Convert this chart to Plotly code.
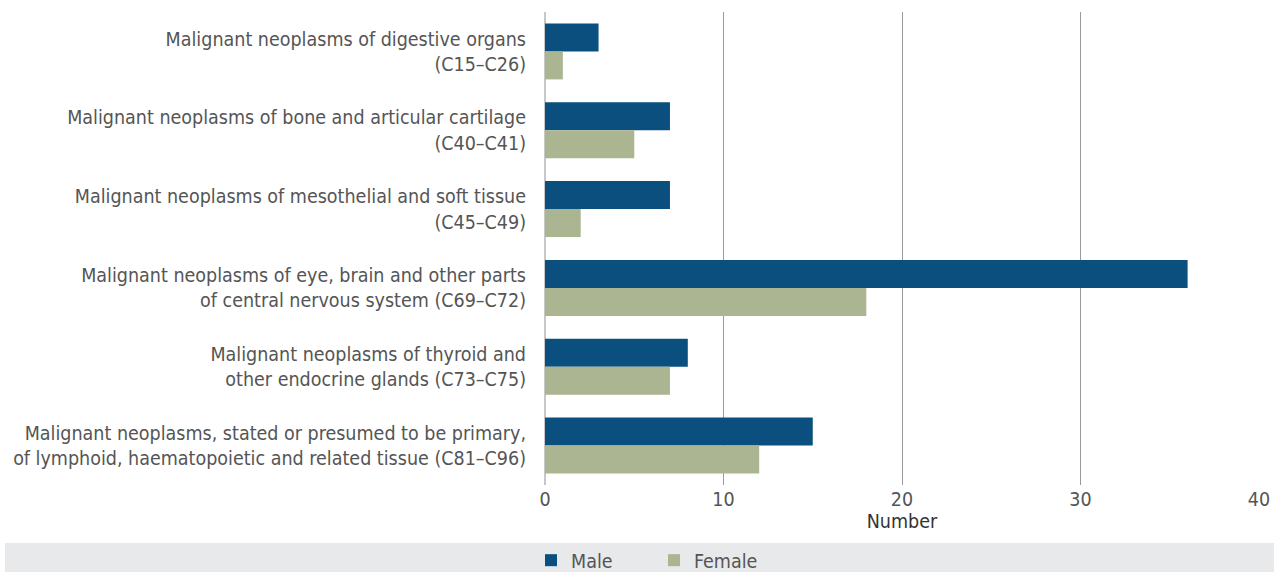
import plotly.graph_objects as go

categories = [
    "Malignant neoplasms of digestive organs<br>(C15–C26)",
    "Malignant neoplasms of bone and articular cartilage<br>(C40–C41)",
    "Malignant neoplasms of mesothelial and soft tissue<br>(C45–C49)",
    "Malignant neoplasms of eye, brain and other parts<br>of central nervous system (C69–C72)",
    "Malignant neoplasms of thyroid and<br>other endocrine glands (C73–C75)",
    "Malignant neoplasms, stated or presumed to be primary,<br>of lymphoid, haematopoietic and related tissue (C81–C96)",
]
male = [3, 7, 7, 36, 8, 15]
female = [1, 5, 2, 18, 7, 12]
x_ticks = [0, 10, 20, 30, 40]

FONT = "DejaVu Sans Condensed, sans-serif"
TXT = "#555555"
FS = 19.5

L, R, T, B = 545, 15, 12, 87
H = 572 - T - B
W = 1274 - L - R

fig = go.Figure()
fig.add_trace(go.Bar(y=categories, x=male, name="Male", orientation="h",
                     marker=dict(color="#0a4f7e", line=dict(width=0))))
fig.add_trace(go.Bar(y=categories, x=female, name="Female", orientation="h",
                     marker=dict(color="#abb592", line=dict(width=0))))

band_top = 543
fig.update_layout(
    width=1274, height=572,
    margin=dict(l=L, r=R, t=T, b=B, autoexpand=False),
    barmode="group", bargap=0.29, bargroupgap=0,
    plot_bgcolor="white", paper_bgcolor="white",
    font=dict(family=FONT, size=FS, color=TXT),
    showlegend=True,
    legend=dict(orientation="h", x=-14 / W, xanchor="left", y=-(band_top - 2 - (572 - B)) / H, yanchor="top",
                bgcolor="rgba(0,0,0,0)", font=dict(size=FS, color=TXT),
                traceorder="normal", entrywidth=78, entrywidthmode="pixels"),
    shapes=[dict(type="rect", xref="paper", yref="paper",
                 x0=-(L - 5) / W, x1=(W + R) / W, y0=-(B) / H - 0.05, y1=-(band_top - (572 - B)) / H,
                 fillcolor="#e8e9eb", line=dict(width=0), layer="below")],
)
fig.update_xaxes(range=[0, 40], tickvals=x_ticks, showgrid=True, gridcolor="#9a9a9a",
                 gridwidth=1.3, zeroline=True, zerolinecolor="#c8c8c8", zerolinewidth=2,
                 showline=False, ticks="", automargin=False, tickfont=dict(size=FS, color=TXT),
                 title=dict(text="Number", font=dict(size=FS, color="#333333"), standoff=2))
fig.update_yaxes(categoryorder="array", categoryarray=categories, autorange="reversed",
                 showgrid=False, showline=False, ticks="", ticklabelstandoff=18, automargin=False,
                 tickfont=dict(size=FS, color=TXT))

fig.write_html("out.html", config={"displayModeBar": False},
               post_script="document.body.style.margin='0';document.body.style.overflow='hidden';")
